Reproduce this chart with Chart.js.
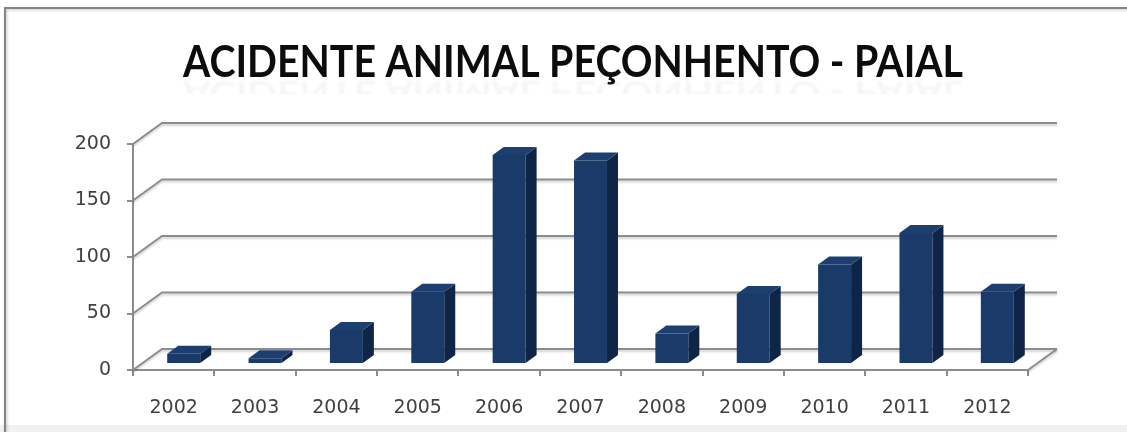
<!DOCTYPE html>
<html>
<head>
<meta charset="utf-8">
<script src="https://cdn.jsdelivr.net/npm/chart.js@4.4.1/dist/chart.umd.min.js"></script>
<style>
  html, body { margin: 0; padding: 0; background: #fff; overflow: hidden; }
  #wrap { width: 1127px; height: 432px; position: relative; }
  canvas { display: block; }
</style>
</head>
<body>
<div id="wrap"><canvas id="chart" width="1127" height="432"></canvas></div>
<script>
// Chart content
const TITLE = 'ACIDENTE ANIMAL PEÇONHENTO - PAIAL';
const YEARS = ['2002', '2003', '2004', '2005', '2006', '2007', '2008', '2009', '2010', '2011', '2012'];
const CASES = [9, 5, 30, 64, 185, 180, 27, 62, 88, 116, 64];
const Y_MIN = 0;
const Y_MAX = 200;
const Y_STEP = 50;

// Styling
const GRID_COLOR = '#8c8c8c';
const LABEL_COLOR = '#3f3f3f';
const FRONT = '#1a3b69';
const SIDE = '#0f2547';
const TOP = '#1d3f70';
const WALL_DX = 29, WALL_DY = 21;   // depth of the 3D box
const BAR_DX = 10, BAR_DY = 6;      // bars sit slightly behind the front plane
const SIDE_DX = 11, SIDE_DY = 8;    // bar depth

function drawTitle(ctx, x, baseline, width) {
  ctx.save();
  ctx.font = 'bold 43px Lato, "Open Sans", sans-serif';
  ctx.textBaseline = 'alphabetic';
  ctx.textAlign = 'center';
  const sx = width / ctx.measureText(TITLE).width;
  // faint mirrored reflection under the title
  ctx.save();
  ctx.beginPath();
  ctx.rect(0, baseline + 3, ctx.canvas.width, 14);
  ctx.clip();
  ctx.translate(x, baseline + 4);
  ctx.scale(sx, -0.8);
  ctx.filter = 'blur(1px)';
  ctx.globalAlpha = 0.035;
  ctx.fillStyle = '#000';
  ctx.fillText(TITLE, 0, 0);
  ctx.restore();
  // the title itself
  ctx.translate(x, baseline);
  ctx.scale(sx, 1);
  ctx.fillStyle = '#0c0c0c';
  ctx.fillText(TITLE, 0, 0);
  ctx.restore();
}

const box3d = {
  id: 'box3d',
  beforeDraw(chart) {
    const ctx = chart.ctx;
    ctx.save();
    // frame around the slide area
    ctx.fillStyle = '#f1f1f1';
    ctx.fillRect(0, 425, chart.width, chart.height - 425);
    ctx.strokeStyle = '#858585';
    ctx.lineWidth = 2;
    ctx.shadowColor = 'rgba(0,0,0,0.25)';
    ctx.shadowBlur = 3;
    ctx.shadowOffsetX = 1;
    ctx.shadowOffsetY = 1;
    ctx.beginPath();
    ctx.moveTo(5, chart.height);
    ctx.lineTo(5, 8);
    ctx.lineTo(chart.width + 10, 8);
    ctx.stroke();
    ctx.restore();

    drawTitle(ctx, 573, 77, 780);
  },
  beforeDatasetsDraw(chart) {
    const { ctx, chartArea: a, scales: { y } } = chart;
    ctx.save();
    ctx.lineWidth = 2;
    ctx.strokeStyle = GRID_COLOR;
    ctx.shadowColor = 'rgba(0,0,0,0.18)';
    ctx.shadowOffsetY = 2;
    ctx.shadowBlur = 2;
    y.ticks.forEach(t => {
      const yf = y.getPixelForValue(t.value);
      ctx.beginPath();
      ctx.moveTo(a.left, yf);
      ctx.lineTo(a.left + WALL_DX, yf - WALL_DY);
      ctx.lineTo(a.right + WALL_DX, yf - WALL_DY);
      ctx.stroke();
    });
    // right edge of the floor
    ctx.beginPath();
    ctx.moveTo(a.right, a.bottom);
    ctx.lineTo(a.right + WALL_DX, a.bottom - WALL_DY);
    ctx.stroke();
    ctx.restore();

    // front faces are drawn by Chart.js inside this offset
    ctx.save();
    ctx.translate(BAR_DX, -BAR_DY);
  },
  afterDatasetsDraw(chart) {
    const ctx = chart.ctx;
    const meta = chart.getDatasetMeta(0);
    meta.data.forEach(bar => {
      const { x, y, base, width } = bar.getProps(['x', 'y', 'base', 'width'], true);
      const l = x - width / 2, r = x + width / 2;
      // side face
      ctx.fillStyle = SIDE;
      ctx.beginPath();
      ctx.moveTo(r, y);
      ctx.lineTo(r + SIDE_DX, y - SIDE_DY);
      ctx.lineTo(r + SIDE_DX, base - SIDE_DY);
      ctx.lineTo(r, base);
      ctx.closePath();
      ctx.fill();
      // top face
      ctx.fillStyle = TOP;
      ctx.beginPath();
      ctx.moveTo(l, y);
      ctx.lineTo(l + SIDE_DX, y - SIDE_DY);
      ctx.lineTo(r + SIDE_DX, y - SIDE_DY);
      ctx.lineTo(r, y);
      ctx.closePath();
      ctx.fill();
    });
    ctx.restore();
  }
};

const tickFont = { family: '"DejaVu Sans", sans-serif', size: 19 };

new Chart(document.getElementById('chart'), {
  type: 'bar',
  data: {
    labels: YEARS,
    datasets: [{
      data: CASES,
      backgroundColor: FRONT,
      borderWidth: 0,
      barPercentage: 0.405,
      categoryPercentage: 1,
      clip: false
    }]
  },
  options: {
    responsive: false,
    animation: false,
    devicePixelRatio: 1,
    layout: { padding: { top: 144, right: 99, bottom: 0, left: 0 } },
    plugins: {
      legend: { display: false },
      title: { display: false },
      tooltip: { enabled: false }
    },
    scales: {
      x: {
        grid: { offset: true, drawOnChartArea: false, drawTicks: true, tickLength: 6, color: GRID_COLOR, lineWidth: 2 },
        border: { display: true, color: GRID_COLOR, width: 2 },
        ticks: { font: tickFont, color: LABEL_COLOR, padding: 21, maxRotation: 0 },
        afterFit(scale) { scale.height = 62; }
      },
      y: {
        min: Y_MIN,
        max: Y_MAX,
        grid: { drawOnChartArea: false, drawTicks: true, tickLength: 6, color: GRID_COLOR, lineWidth: 2 },
        border: { display: true, color: GRID_COLOR, width: 2 },
        ticks: { stepSize: Y_STEP, font: tickFont, color: LABEL_COLOR, padding: 16 },
        afterFit(scale) { scale.width = 133; }
      }
    }
  },
  plugins: [box3d]
});
</script>
</body>
</html>
